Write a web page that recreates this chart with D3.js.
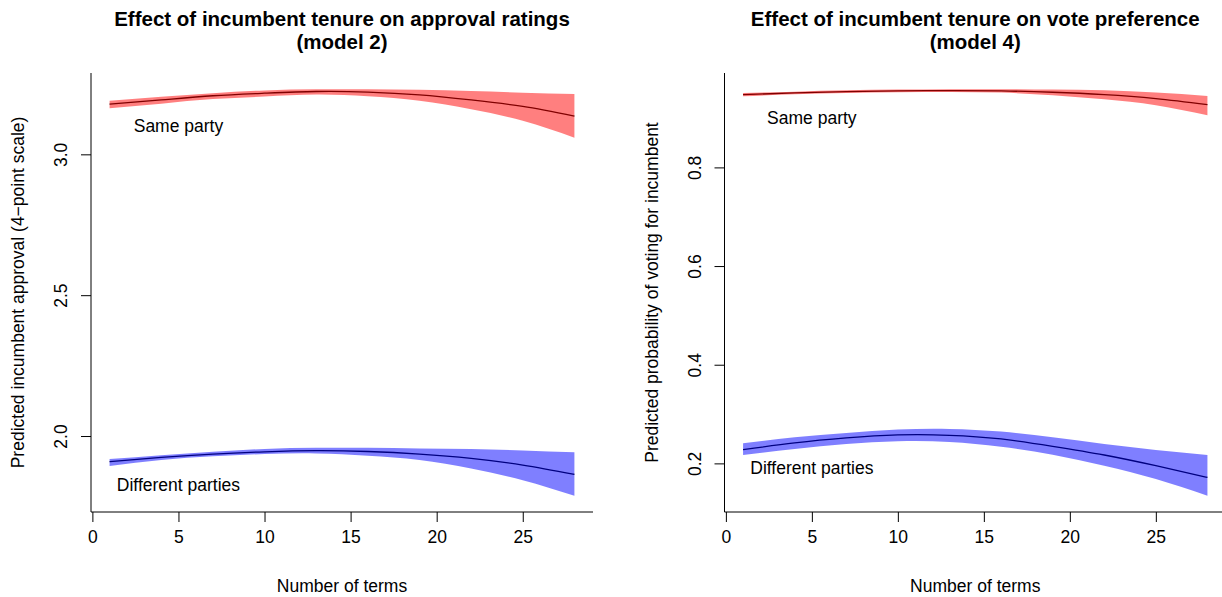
<!DOCTYPE html>
<html>
<head>
<meta charset="utf-8">
<script src="https://cdn.jsdelivr.net/npm/d3@7"></script>
<style>
  body { margin: 0; background: #fff; }
  svg { font-family: "Liberation Sans", Arial, sans-serif; }
  .tick line, .frame { stroke: #000; stroke-width: 1; }
  .tick text { font-size: 17.5px; fill: #000; }
  .axis-title { font-size: 17.5px; fill: #000; }
  .plot-title { font-size: 20.5px; font-weight: bold; fill: #000; }
  .series-label { font-size: 17.5px; fill: #000; }
</style>
</head>
<body>
<div id="chart"></div>
<script>
// Number of terms at which the fitted curves were read
const terms = [1, 4, 7, 10, 13, 16, 19, 22, 25, 28];

// model 2: approval (4-point scale)
const approvalSameFit = [3.178, 3.193, 3.208, 3.217, 3.223, 3.221, 3.211, 3.193, 3.170, 3.136];
const approvalSameHi  = [3.190, 3.204, 3.217, 3.227, 3.231, 3.231, 3.229, 3.225, 3.219, 3.214];
const approvalSameLo  = [3.164, 3.180, 3.196, 3.205, 3.212, 3.206, 3.190, 3.160, 3.119, 3.059];
const approvalDiffFit = [1.909, 1.924, 1.936, 1.944, 1.948, 1.945, 1.936, 1.921, 1.897, 1.864];
const approvalDiffHi  = [1.918, 1.932, 1.944, 1.954, 1.958, 1.958, 1.956, 1.954, 1.949, 1.942];
const approvalDiffLo  = [1.894, 1.915, 1.928, 1.936, 1.938, 1.930, 1.915, 1.885, 1.843, 1.788];

// model 4: probability of voting for incumbent
const voteSameFit = [0.9475, 0.9509, 0.9536, 0.9550, 0.9557, 0.9550, 0.9523, 0.9475, 0.9394, 0.9272];
const voteSameHi  = [0.9509, 0.9536, 0.9563, 0.9577, 0.9584, 0.9584, 0.9577, 0.9563, 0.9516, 0.9448];
const voteSameLo  = [0.9442, 0.9482, 0.9509, 0.9523, 0.9530, 0.9516, 0.9462, 0.9380, 0.9259, 0.9056];
const voteDiffFit = [0.2278, 0.2414, 0.2515, 0.2576, 0.2569, 0.2495, 0.2346, 0.2170, 0.1953, 0.1716];
const voteDiffHi  = [0.2407, 0.2529, 0.2617, 0.2685, 0.2698, 0.2644, 0.2529, 0.2393, 0.2272, 0.2170];
const voteDiffLo  = [0.2170, 0.2292, 0.2393, 0.2447, 0.2434, 0.2339, 0.2177, 0.1953, 0.1682, 0.1344];

const xTicks = [0, 5, 10, 15, 20, 25];
const approvalTicks = [2.0, 2.5, 3.0];
const voteTicks = [0.2, 0.4, 0.6, 0.8];

const panels = [
  {
    title: ['Effect of incumbent tenure on approval ratings', '(model 2)'],
    yTitle: 'Predicted incumbent approval (4\u2212point scale)',
    yTicks: approvalTicks,
    left: 91, right: 593,
    series: [
      { name: 'Same party', fit: approvalSameFit, lo: approvalSameLo, hi: approvalSameHi, fill: 'rgba(255,0,0,0.5)', label: [5, 3.1] },
      { name: 'Different parties', fit: approvalDiffFit, lo: approvalDiffLo, hi: approvalDiffHi, fill: 'rgba(0,0,255,0.5)', label: [5, 1.825] }
    ]
  },
  {
    title: ['Effect of incumbent tenure on vote preference', '(model 4)'],
    yTitle: 'Predicted probability of voting for incumbent',
    yTicks: voteTicks,
    left: 724.5, right: 1226,
    series: [
      { name: 'Same party', fit: voteSameFit, lo: voteSameLo, hi: voteSameHi, fill: 'rgba(255,0,0,0.5)', label: [5, 0.9] },
      { name: 'Different parties', fit: voteDiffFit, lo: voteDiffLo, hi: voteDiffHi, fill: 'rgba(0,0,255,0.5)', label: [5, 0.19] }
    ]
  }
];

const W = 1222, H = 597;
const plotTop = 73, plotBottom = 512;

const svg = d3.select('#chart').append('svg')
  .attr('width', W).attr('height', H);

// R-style 4% padding around the data range
function padded(lo, hi) {
  const r = hi - lo;
  return [lo - 0.04 * r, hi + 0.04 * r];
}

panels.forEach(p => {
  const x = d3.scaleLinear().domain(padded(d3.min(terms), d3.max(terms))).range([p.left, p.right]);
  const yMin = d3.min(p.series, s => d3.min(s.lo));
  const yMax = d3.max(p.series, s => d3.max(s.hi));
  const y = d3.scaleLinear().domain(padded(yMin, yMax)).range([plotBottom, plotTop]);
  const cx = (p.left + p.right) / 2;

  const g = svg.append('g');

  p.series.forEach(s => {
    const line = d3.line()
      .x((d, i) => x(terms[i]))
      .y(d => y(d))
      .curve(d3.curveNatural);
    const area = d3.area()
      .x((d, i) => x(terms[i]))
      .y0((d, i) => y(s.lo[i]))
      .y1((d, i) => y(s.hi[i]))
      .curve(d3.curveNatural);

    g.append('path')
      .attr('d', line(s.fit))
      .attr('fill', 'none')
      .attr('stroke', '#000')
      .attr('stroke-width', 1.3);

    g.append('path')
      .attr('d', area(s.fit))
      .attr('fill', s.fill)
      .attr('stroke', 'none');

    g.append('text')
      .attr('class', 'series-label')
      .attr('x', x(s.label[0]))
      .attr('y', y(s.label[1]))
      .attr('dy', '0.35em')
      .attr('text-anchor', 'middle')
      .text(s.name);
  });

  // bty = "l" frame
  g.append('line').attr('class', 'frame')
    .attr('x1', p.left).attr('x2', p.left).attr('y1', plotTop).attr('y2', plotBottom);
  g.append('line').attr('class', 'frame')
    .attr('x1', p.left).attr('x2', p.right).attr('y1', plotBottom).attr('y2', plotBottom);

  const xAxis = g.append('g')
    .attr('transform', `translate(0,${plotBottom})`)
    .call(d3.axisBottom(x).tickValues(xTicks).tickSize(10).tickPadding(9).tickFormat(d3.format('d')));
  xAxis.select('.domain').remove();

  const yAxis = g.append('g')
    .attr('transform', `translate(${p.left},0)`)
    .call(d3.axisLeft(y).tickValues(p.yTicks).tickSize(10).tickFormat(d3.format('.1f')));
  yAxis.select('.domain').remove();
  yAxis.selectAll('.tick text')
    .attr('transform', 'rotate(-90)')
    .attr('x', 0)
    .attr('y', -24)
    .attr('dy', 0)
    .attr('text-anchor', 'middle');

  g.append('text')
    .attr('class', 'axis-title')
    .attr('x', cx).attr('y', 592)
    .attr('text-anchor', 'middle')
    .text('Number of terms');

  g.append('text')
    .attr('class', 'axis-title')
    .attr('transform', `translate(${p.left - 67},${(plotTop + plotBottom) / 2}) rotate(-90)`)
    .attr('text-anchor', 'middle')
    .text(p.yTitle);

  p.title.forEach((t, i) => {
    g.append('text')
      .attr('class', 'plot-title')
      .attr('x', cx).attr('y', 26 + i * 23)
      .attr('text-anchor', 'middle')
      .text(t);
  });
});
</script>
</body>
</html>
